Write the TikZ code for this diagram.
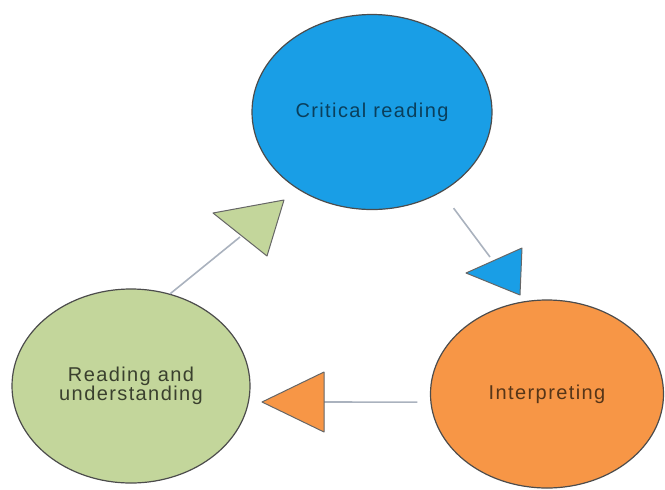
\documentclass[tikz,border=0pt]{standalone}
\usepackage{fontspec}
\setmainfont{Liberation Sans}[LetterSpace=7]
\usetikzlibrary{shapes.geometric}

\definecolor{critblue}{RGB}{25,158,230}
\definecolor{readgreen}{RGB}{195,214,155}
\definecolor{interporange}{RGB}{247,150,70}
\definecolor{linkgray}{RGB}{170,178,190}

\begin{document}
\begin{tikzpicture}[x=0.5pt, y=-0.5pt,
    bubble/.style={ellipse, draw=black!70, line width=0.6pt, inner sep=0pt,
                   align=center, font=\fontsize{10}{9.5}\selectfont},
    link/.style={draw=linkgray, line width=0.8pt},
    head/.style={draw=black!60, line width=0.5pt, line join=round}]

    \useasboundingbox (0,0) rectangle (665,489);

    \node [bubble, fill=critblue, text=critblue!40!black,
           minimum width=120pt, minimum height=97.5pt] (crit) at (372,112) {\raisebox{-1.5pt}{Critical reading}};
    \node [bubble, fill=interporange, text=interporange!35!black,
           minimum width=116.5pt, minimum height=94pt] (interp) at (547,394) {\raisebox{-1.5pt}{Interpreting}};
    \node [bubble, fill=readgreen, text=readgreen!30!black,
           minimum width=119pt, minimum height=97pt] (read) at (131,386) {Reading and\\understanding};

    % ends of the links, at the back of each head
    \coordinate (greenbase) at (240,237);
    \coordinate (bluebase) at (490,257);
    \coordinate (orangebase) at (324,402);

 \path[link]
      (read.67) edge (greenbase)
      (crit.-49) edge[shorten <=10pt] (bluebase)
      (interp.184) edge[shorten <=6.5pt] (orangebase);

    % the triangle heads
    \filldraw [head, fill=readgreen] (213,213) -- (284,200) -- (267,256) -- cycle;
    \filldraw [head, fill=critblue] (466,273) -- (522,248) -- (520,295) -- cycle;
    \filldraw [head, fill=interporange] (262,402) -- (324,372) -- (324,432) -- cycle;
\end{tikzpicture}
\end{document}
